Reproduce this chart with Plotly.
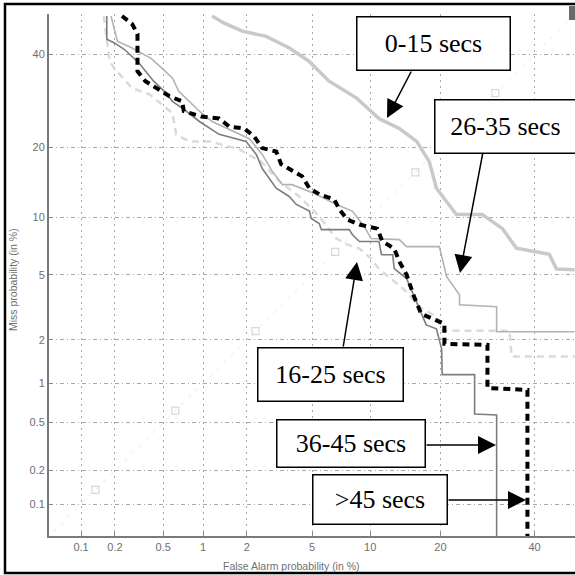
import plotly.graph_objects as go
from statistics import NormalDist

# ---------------- data (percent) ----------------
tick_pct = [0.1, 0.2, 0.5, 1, 2, 5, 10, 20, 40]
tick_text = ["0.1", "0.2", "0.5", "1", "2", "5", "10", "20", "40"]

fa_0_15 = [1.16, 1.41, 1.87, 2.67, 3.7, 4.8, 6.2, 8.6, 11.0, 13.6, 16.1, 18.1, 19.3, 21.1,
           22.9, 28.1, 32.5, 35.7, 43.6, 45.4, 49.9]
miss_0_15 = [49.5, 47.7, 45.7, 44.4, 41.5, 38.3, 33.6, 29.8, 25.5, 23.5, 21.1, 17.6, 13.6, 11.9,
             10.3, 10.3, 8.8, 7.0, 6.5, 5.4, 5.35]

fa_16_25 = [0.16, 0.18, 0.20, 0.28, 0.39, 0.59, 0.63, 0.79, 1.11, 1.78, 2.48, 3.21, 4.23, 5.48,
            6.77, 7.72, 8.87, 10.1, 11.0, 12.5, 14.6, 16.5, 19.3, 20.3, 34.1, 34.6, 49.9]
miss_16_25 = [49.5, 38.3, 36.4, 32.0, 30.6, 26.6, 22.4, 21.1, 21.1, 19.7, 17.6, 14.6, 12.5, 10.1,
              7.85, 7.30, 6.96, 6.15, 5.42, 4.77, 4.0, 3.25, 2.82, 2.29, 2.29, 1.54, 1.54]

fa_26_35 = [0.185, 0.21, 0.28, 0.40, 0.49, 0.59, 0.66, 0.79, 0.94, 1.16, 1.60, 2.08, 2.52, 2.91,
            3.36, 3.84, 5.27, 6.77, 8.18, 9.38, 10.1, 13.6, 14.6, 19.8, 21.1, 22.2, 23.5, 23.5,
            31.2, 31.2, 49.9]
miss_26_35 = [49.5, 43.2, 41.5, 39.0, 36.6, 34.3, 31.3, 29.1, 27.0, 24.9, 23.0, 21.6, 18.8, 16.1,
              14.1, 14.1, 12.8, 11.5, 10.7, 9.0, 7.85, 7.75, 7.13, 7.13, 4.89, 4.40, 3.84, 3.34,
              3.25, 2.26, 2.26]

fa_36_45 = [0.17, 0.17, 0.20, 0.24, 0.32, 0.42, 0.51, 0.59, 0.75, 0.94, 1.30, 1.98, 2.31, 2.52,
            3.08, 3.69, 4.06, 4.83, 4.95, 5.48, 5.63, 7.89, 8.18, 8.87, 11.0, 11.3, 12.7, 12.9,
            14.6, 16.1, 17.6, 19.3, 20.2, 20.3, 26.5, 26.5, 31.2, 31.2]
miss_36_45 = [49.5, 43.7, 42.7, 41.2, 37.8, 33.6, 31.3, 29.1, 27.0, 24.9, 22.4, 21.1, 18.8, 16.5,
              13.6, 12.5, 11.5, 10.7, 9.87, 9.33, 8.70, 8.70, 8.23, 7.58, 7.58, 6.46, 6.46, 5.42,
              4.77, 3.48, 2.50, 2.36, 1.74, 1.15, 1.15, 0.585, 0.575, 0.045]

fa_45 = [0.23, 0.28, 0.31, 0.31, 0.31, 0.36, 0.45, 0.56, 0.70, 0.72, 0.97, 1.30, 1.53, 1.93,
         2.24, 2.52, 3.08, 3.30, 4.40, 4.83, 5.48, 6.61, 7.02, 7.72, 8.87, 10.8, 11.4, 12.9,
         13.6, 14.6, 15.7, 16.8, 18.6, 20.7, 20.7, 29.2, 29.2, 38.3, 38.3]
miss_45 = [49.5, 47.5, 45.0, 40.0, 35.9, 33.6, 32.0, 30.2, 29.1, 27.0, 25.9, 25.5, 23.9, 23.5,
           22.0, 19.9, 19.3, 17.2, 15.3, 13.6, 12.8, 12.1, 10.9, 9.76, 9.22, 8.8, 7.6, 6.96,
           5.93, 5.02, 3.74, 2.94, 2.74, 2.54, 1.88, 1.85, 0.92, 0.89, 0.045]

eer_line = [0.04, 50.0]
eer_marks = [0.135, 0.62, 2.28, 6.68, 15.9, 30.9]

labels = ["0-15 secs", "26-35 secs", "16-25 secs", "36-45 secs", ">45 secs"]

# ---------------- helpers ----------------
nd = NormalDist()
def probit(vals):
    return [nd.inv_cdf(v / 100.0) for v in vals]

W = H = 575
L, R, T, B = 49, 0, 14, 39
PW, PH = W - L - R, H - T - B
def px(x):
    return (x - L) / PW
def py(y):
    return (H - B - y) / PH

fig = go.Figure()

fig.add_trace(go.Scatter(x=probit(eer_line), y=probit(eer_line), mode="lines",
                         line=dict(color="#e8e8e8", width=1, dash="4px,6px"),
                         hoverinfo="skip", showlegend=False))
fig.add_trace(go.Scatter(x=probit(eer_marks), y=probit(eer_marks), mode="markers",
                         marker=dict(symbol="square-open", size=7, color="#d8d8d8",
                                     line=dict(width=1.2)),
                         hoverinfo="skip", showlegend=False))

fig.add_trace(go.Scatter(x=probit(fa_0_15), y=probit(miss_0_15), mode="lines",
                         name=labels[0], line=dict(color="#c9c9c9", width=3.5)))
fig.add_trace(go.Scatter(x=probit(fa_16_25), y=probit(miss_16_25), mode="lines",
                         name=labels[2], line=dict(color="#dadada", width=2.5, dash="7px,5px")))
fig.add_trace(go.Scatter(x=probit(fa_26_35), y=probit(miss_26_35), mode="lines",
                         name=labels[1], line=dict(color="#b3b3b3", width=1.6)))
fig.add_trace(go.Scatter(x=probit(fa_36_45), y=probit(miss_36_45), mode="lines",
                         name=labels[3], line=dict(color="#7d7d7d", width=1.6)))
fig.add_trace(go.Scatter(x=probit(fa_45), y=probit(miss_45), mode="lines",
                         name=labels[4], line=dict(color="#000000", width=4, dash="7px,5px")))

axis_common = dict(
    tickvals=probit(tick_pct), ticktext=tick_text,
    range=[nd.inv_cdf(0.0005), 0.0],
    showgrid=True, gridcolor="#a8a8a8", gridwidth=1,
    zeroline=False, showline=True, linecolor="#7a7a7a", linewidth=2,
    ticks="inside", ticklen=4, tickcolor="#888888",
    tickfont=dict(family="Liberation Sans, Arial, sans-serif", size=11, color="#6e6e6e"),
)
fig.update_xaxes(**axis_common, griddash="2px,4px")
fig.update_yaxes(**axis_common, griddash="4px,3px,1px,3px")

annotations = []
# axis titles
annotations.append(dict(text="False Alarm probability (in %)", x=px(291), y=py(566),
                        xref="paper", yref="paper", showarrow=False, xanchor="center",
                        yanchor="middle",
                        font=dict(family="Liberation Sans, Arial, sans-serif", size=10.5,
                                  color="#707070")))
annotations.append(dict(text="Miss probability (in %)", x=px(13), y=py(280),
                        xref="paper", yref="paper", showarrow=False, textangle=-90,
                        xanchor="center", yanchor="middle",
                        font=dict(family="Liberation Sans, Arial, sans-serif", size=10.5,
                                  color="#707070")))

# label boxes: (text, center x, center y, width, height)
boxes = [
    (labels[0], 433.5, 43.5, 152, 52),
    (labels[1], 505, 126, 140, 52),
    (labels[2], 330.5, 374, 144, 52),
    (labels[3], 351, 443, 147, 46),
    (labels[4], 380, 499, 133, 48),
]
for text, cx, cy, w, h in boxes:
    annotations.append(dict(text=text, x=px(cx), y=py(cy), xref="paper", yref="paper",
                            showarrow=False, xanchor="center", yanchor="middle",
                            width=w, height=h, bgcolor="white", bordercolor="black",
                            borderwidth=1.5, borderpad=0,
                            font=dict(family="Liberation Serif, Times New Roman, serif",
                                      size=26, color="black")))

# arrows: (tail x, tail y, tip x, tip y)
arrows = [
    (412, 70, 387, 118),
    (483, 152, 460, 273),
    (343, 348, 357, 262),
    (425, 445, 496, 445),
    (447, 500, 526, 500),
]
for tx, ty, hx, hy in arrows:
    annotations.append(dict(text="", x=px(hx), y=py(hy), xref="paper", yref="paper",
                            ax=tx - hx, ay=ty - hy, axref="pixel", ayref="pixel",
                            showarrow=True, arrowhead=2, arrowsize=2.4, arrowwidth=1.5,
                            arrowcolor="black", standoff=0))

fig.update_layout(
    width=W, height=H,
    margin=dict(l=L, r=R, t=T, b=B),
    paper_bgcolor="white", plot_bgcolor="white",
    showlegend=False,
    annotations=annotations,
    shapes=[
        dict(type="rect", xref="paper", yref="paper",
             x0=px(5), x1=px(578), y0=py(573), y1=py(4),
             line=dict(color="black", width=2.5), layer="above"),
        dict(type="rect", xref="paper", yref="paper",
             x0=px(569), x1=px(576), y0=py(20), y1=py(6),
             fillcolor="#6a6a6a", line=dict(width=0), layer="above"),
    ],
)

fig.write_html("out.html", config={"displayModeBar": False},
               post_script="document.body.style.margin='0';document.body.style.overflow='hidden';")
